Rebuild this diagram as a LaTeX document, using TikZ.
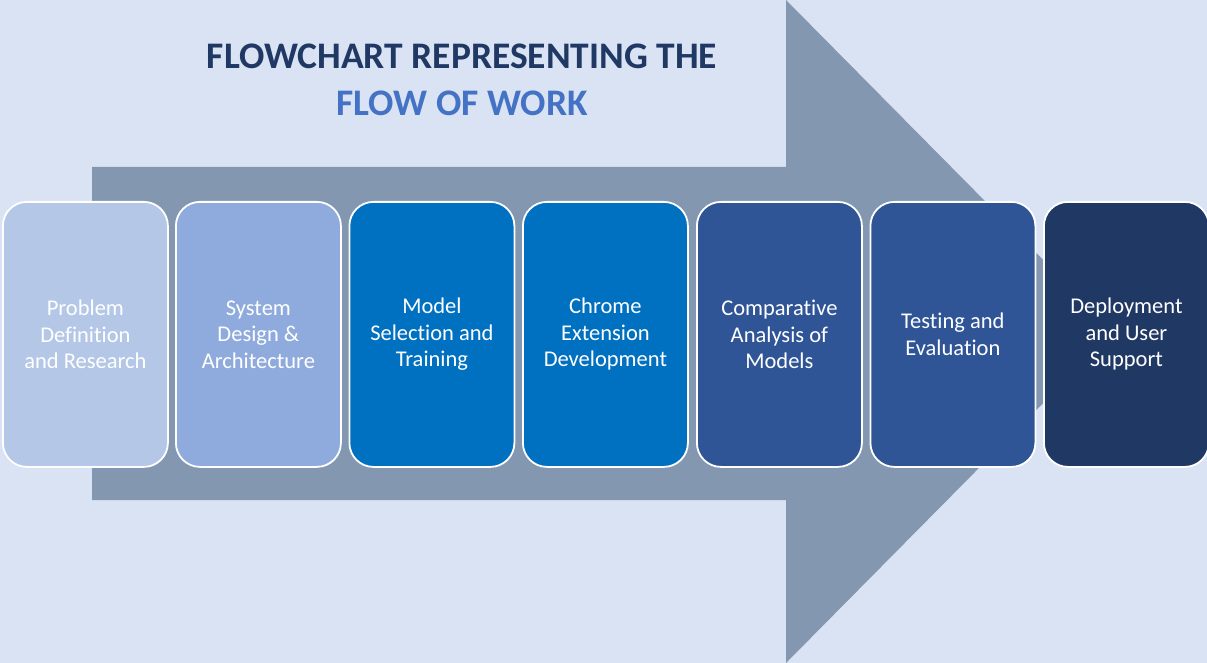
\documentclass[tikz,border=0pt]{standalone}
\usepackage{fontspec}
\setmainfont[RawFeature=-liga]{Carlito}
\definecolor{bg}{HTML}{DAE3F3}
\definecolor{arrowc}{HTML}{8497B0}
\definecolor{cA}{HTML}{B4C7E7}
\definecolor{cB}{HTML}{8FAADC}
\definecolor{cC}{HTML}{0070C0}
\definecolor{cD}{HTML}{2F5597}
\definecolor{cE}{HTML}{203864}
\definecolor{titleB}{HTML}{4472C4}
\begin{document}
\begin{tikzpicture}[x=1pt,y=-1pt,
  stepbox/.style={draw=white,line width=1.8pt,rounded corners=24pt,minimum width=165pt,minimum height=265pt,inner sep=0pt,
    text=white,font=\fontsize{22.5}{26.5}\selectfont,align=center,anchor=north west},
  titletext/.style={font=\fontsize{37.5}{40}\selectfont\bfseries,anchor=base}]
\useasboundingbox (0,0) rectangle (1207,663);
\fill[bg] (0,0) rectangle (1207,663);
\fill[arrowc] (92,167) -- (786,167) -- (786,0) -- (1114,331.5) -- (786,663) -- (786,500) -- (92,500) -- cycle;
\node[titletext,text=cE] (t1) at (462,69) {FLOWCHART REPRESENTING THE};
\node[titletext,text=titleB] (t2) at (462,116) {FLOW OF WORK};
\node[stepbox,fill=cA] (b1) at (2,201) {Problem\\Definition\\and Research};
\node[stepbox,fill=cB] (b2) at (175,201) {System\\Design \&\\Architecture};
\node[stepbox,fill=cC] (b3) at (348.5,201) {Model\\Selection and\\Training};
\node[stepbox,fill=cC] (b4) at (522,201) {Chrome\\Extension\\Development};
\node[stepbox,fill=cD] (b5) at (696,201) {Comparative\\Analysis of\\Models};
\node[stepbox,fill=cD] (b6) at (869.5,201) {Testing and\\Evaluation};
\node[stepbox,fill=cE] (b7) at (1043,201) {Deployment\\and User\\Support};
\end{tikzpicture}
\end{document}
